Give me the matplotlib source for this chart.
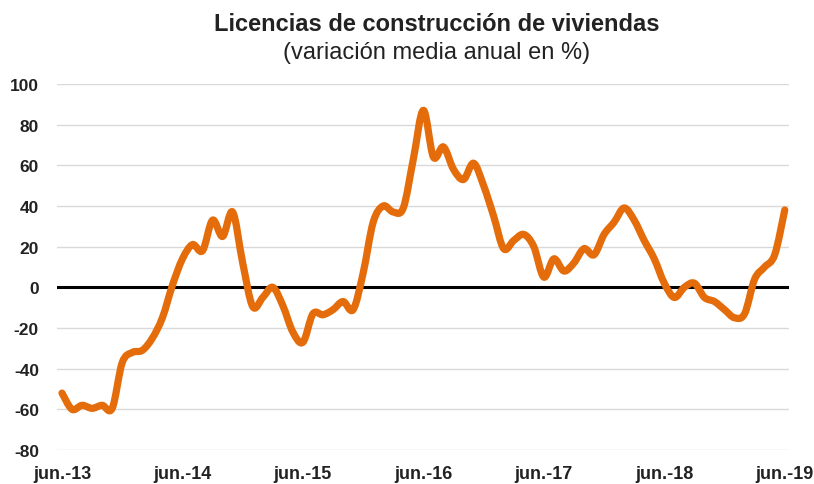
import matplotlib
matplotlib.use("Agg")
import matplotlib.pyplot as plt
from matplotlib.path import Path
from matplotlib.patches import PathPatch
import numpy as np

plt.rcParams['font.family'] = ['Liberation Sans', 'DejaVu Sans']

title = "Licencias de construcción de viviendas"
subtitle = "(variación media anual en %)"
tick_labels = ["jun.-13", "jun.-14", "jun.-15", "jun.-16", "jun.-17", "jun.-18", "jun.-19"]
y_ticks = [-80, -60, -40, -20, 0, 20, 40, 60, 80, 100]

# monthly values, jun-13 .. jun-19
values = [
    -52, -60, -58, -59.5, -58, -59.5, -37, -32, -31, -25,
    -15, 1, 14, 21, 18, 33, 25, 37, 12, -9.5,
    -5, 0, -9, -22, -27, -13, -13.5, -11, -7, -11,
    7, 32, 40, 37, 39, 63, 87, 64, 69, 58,
    53, 61, 50, 35, 19, 23, 26, 20, 5, 14,
    8, 12, 19, 16, 26, 32, 39, 33, 23, 14,
    2, -5, 0, 2, -5, -7, -11, -15, -13, 4,
    10, 16, 38,
]

x = np.arange(len(values), dtype=float)
y = np.array(values, dtype=float)


def smooth_path(xs, ys):
    # Catmull-Rom style cubic Bezier through the data points (like a smoothed spreadsheet line)
    n = len(xs)
    verts = [(xs[0], ys[0])]
    codes = [Path.MOVETO]
    for i in range(n - 1):
        p0 = (xs[max(i - 1, 0)], ys[max(i - 1, 0)])
        p1 = (xs[i], ys[i])
        p2 = (xs[i + 1], ys[i + 1])
        p3 = (xs[min(i + 2, n - 1)], ys[min(i + 2, n - 1)])
        c1 = (p1[0] + (p2[0] - p0[0]) / 6.0, p1[1] + (p2[1] - p0[1]) / 6.0)
        c2 = (p2[0] - (p3[0] - p1[0]) / 6.0, p2[1] - (p3[1] - p1[1]) / 6.0)
        verts += [c1, c2, p2]
        codes += [Path.CURVE4] * 3
    return Path(verts, codes)


fig = plt.figure(figsize=(8.14, 4.85), dpi=100)
ax = fig.add_axes([0.070, 0.070, 0.899, 0.755])

for yt in y_ticks:
    if yt != 0:
        ax.axhline(yt, color='#d9d9d9', lw=1.0, zorder=1)
ax.axhline(0, color='black', lw=2.2, zorder=2)

patch = PathPatch(smooth_path(x, y), facecolor='none', edgecolor='#E46C0A', lw=5.2,
                  joinstyle='round', capstyle='round', zorder=3)
ax.add_patch(patch)

ax.set_xlim(-0.5, 72.4)
ax.set_ylim(-80, 100)
ax.set_yticks(y_ticks)
ax.set_yticklabels([str(v) for v in y_ticks], fontsize=12.5, fontweight='bold', color='#222222')
ax.set_xticks(np.arange(0, 73, 12))
ax.set_xticklabels(tick_labels, fontsize=13, fontweight='bold', color='#222222')
ax.tick_params(axis='y', length=0, pad=13)
ax.tick_params(axis='x', length=0, pad=11)
for s in ax.spines.values():
    s.set_visible(False)

fig.text(0.536, 0.950, title, ha='center', va='center', fontsize=17, fontweight='bold', color='#222222')
fig.text(0.536, 0.890, subtitle, ha='center', va='center', fontsize=17, color='#222222')

fig.savefig("out.png", dpi=100)
